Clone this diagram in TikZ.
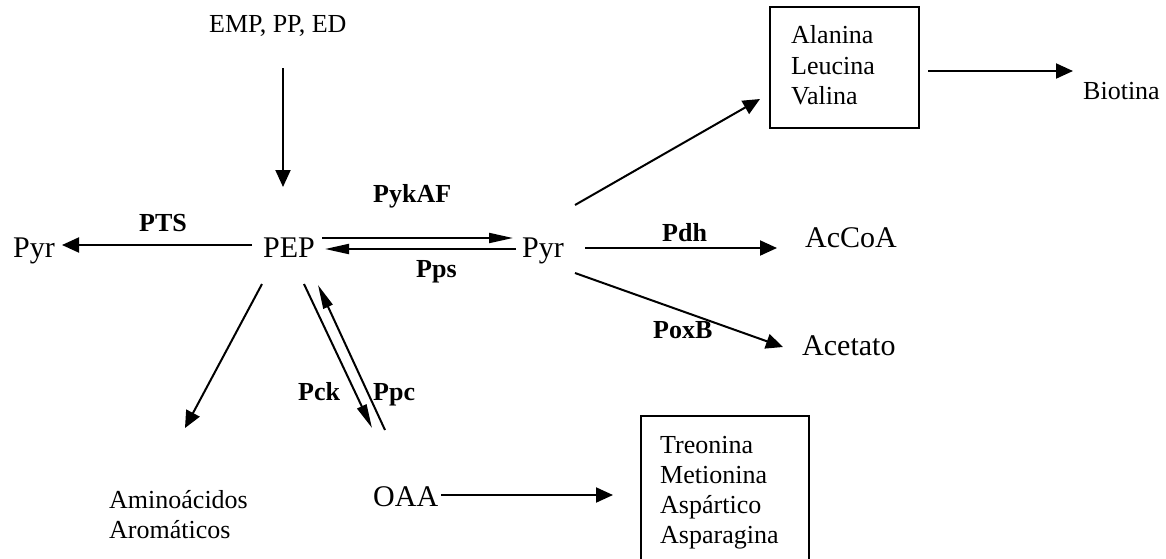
\documentclass[tikz,border=0pt]{standalone}
\usepackage{fontspec}
\setmainfont{Liberation Serif}
\usetikzlibrary{arrows.meta}
\tikzset{
  big/.style={font=\fontsize{30}{36}\selectfont, inner sep=0pt, anchor=base west},
  sm/.style={font=\fontsize{26}{30}\selectfont, inner sep=0pt, anchor=base west},
  lbl/.style={font=\bfseries\fontsize{26}{30}\selectfont, inner sep=0pt, anchor=base west},
  arr/.style={line width=2pt, -{Triangle[length=17pt,width=15pt]}},
  narr/.style={line width=2pt, -{Triangle[length=24pt,width=10pt]}},
  boxstyle/.style={draw, line width=2pt, inner sep=0pt},
}
\begin{document}
\begin{tikzpicture}[x=1pt,y=-1pt]
\useasboundingbox (0,0) rectangle (1166,558);
\clip (0,0) rectangle (1166,558);

% texts
\node[sm]  (emp)  at (209,32)  {EMP, PP, ED};
\node[big] (pyrL) at (13,257)  {Pyr};
\node[big] (pep)  at (263,257) {PEP};
\node[big] (pyr)  at (522,257) {Pyr};
\node[big] (accoa) at (805,247) {AcCoA};
\node[big] (acet) at (802,355) {Acetato};
\node[big] (oaa)  at (373,506) {OAA};
\node[sm]  (amino1) at (109,508) {Aminoácidos};
\node[sm]  (amino2) at (109,538) {Aromáticos};
\node[sm]  (bio)  at (1083,99) {Biotina};

% enzyme labels
\node[lbl] (pts)   at (139,231) {PTS};
\node[lbl] (pyk)   at (373,202) {PykAF};
\node[lbl] (pps)   at (416,277) {Pps};
\node[lbl] (pdh)   at (662,241) {Pdh};
\node[lbl] (poxb)  at (653,338) {PoxB};
\node[lbl] (pck)   at (298,400) {Pck};
\node[lbl] (ppc)   at (373,400) {Ppc};

% boxes
\node[boxstyle, minimum width=149pt, minimum height=121pt] (boxT) at (844.5,67.5) {};
\node[sm] (ala) at (791,43)  {Alanina};
\node[sm] (leu) at (791,74)  {Leucina};
\node[sm] (val) at (791,104) {Valina};

\node[boxstyle, minimum width=168pt, minimum height=190pt] (boxB) at (725,511) {};
\node[sm] (tre) at (660,453) {Treonina};
\node[sm] (met) at (660,483) {Metionina};
\node[sm] (asp) at (660,513) {Aspártico};
\node[sm] (asn) at (660,543) {Asparagina};

% connector end points
\coordinate (empS) at (283,68);   \coordinate (empE) at (283,187);
\coordinate (ptsS) at (252,245);  \coordinate (ptsE) at (62,245);
\coordinate (pykS) at (322,238);  \coordinate (pykE) at (513,238);
\coordinate (ppsS) at (516,249);  \coordinate (ppsE) at (325,249);
\coordinate (upS)  at (575,205);  \coordinate (upE)  at (760,99);
\coordinate (bioS) at (928,71);   \coordinate (bioE) at (1073,71);
\coordinate (pdhS) at (585,248);  \coordinate (pdhE) at (777,248);
\coordinate (poxS) at (575,273);  \coordinate (poxE) at (783,347);
\coordinate (aroS) at (262,284);  \coordinate (aroE) at (185,428);
\coordinate (pckS) at (304,284);  \coordinate (pckE) at (372,428);
\coordinate (ppcS) at (385,430);  \coordinate (ppcE) at (318,285);
\coordinate (oaaS) at (441,495);  \coordinate (oaaE) at (613,495);

% connectors
\draw[arr]  (empS) -- (empE);
\draw[arr]  (ptsS) -- (ptsE);
\draw[narr] (pykS) -- (pykE);
\draw[narr] (ppsS) -- (ppsE);
\draw[arr]  (upS)  -- (upE);
\draw[arr]  (bioS) -- (bioE);
\draw[arr]  (pdhS) -- (pdhE);
\draw[arr]  (poxS) -- (poxE);
\draw[arr]  (aroS) -- (aroE);
\draw[narr] (pckS) -- (pckE);
\draw[narr] (ppcS) -- (ppcE);
\draw[arr]  (oaaS) -- (oaaE);
\end{tikzpicture}
\end{document}
